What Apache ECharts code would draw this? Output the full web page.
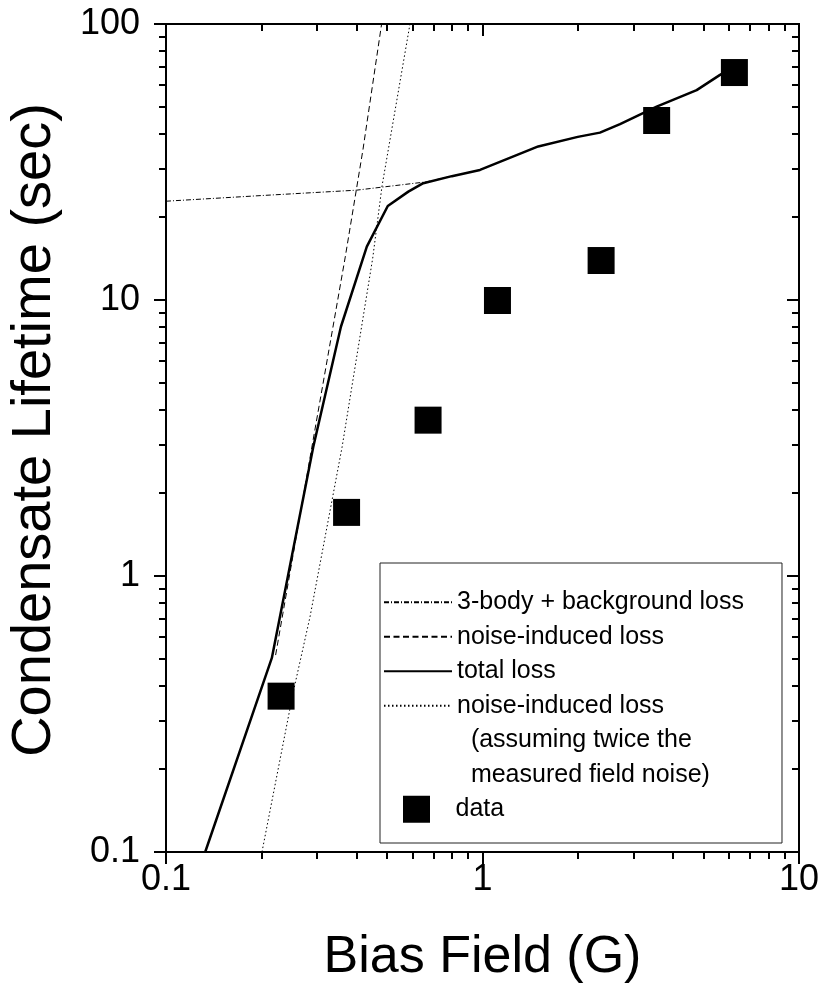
<!DOCTYPE html>
<html><head><meta charset="utf-8">
<script src="https://cdn.jsdelivr.net/npm/echarts@6/dist/echarts.min.js"></script>
<style>html,body{margin:0;padding:0;background:#fff}#chart{width:825px;height:988px}</style>
</head><body><div id="chart"></div>
<script>
// ---- data ----
const dataField = [0.231, 0.372, 0.673, 1.115, 2.37, 3.55, 6.25];
const dataLifetime = [0.367, 1.70, 3.67, 9.96, 13.9, 44.7, 66.7];

const threeBodyField = [0.1, 0.2, 0.4, 0.666, 0.8, 0.982, 1.5, 2.0, 2.35, 2.72, 3.55, 4.75, 5.63, 6.23];
const threeBodyLifetime = [22.8, 23.9, 25.0, 26.8, 28.1, 29.6, 36.0, 39.0, 40.4, 43.4, 50.2, 57.6, 65.4, 69.9];

const noiseField = [0.222, 0.289, 0.368, 0.419, 0.480];
const noiseLifetime = [0.517, 2.93, 14.2, 35.0, 100];

const totalField = [0.133, 0.216, 0.248, 0.292, 0.357, 0.431, 0.502, 0.583, 0.650, 0.8, 0.982, 1.5, 2.0, 2.35, 2.72, 3.55, 4.75, 5.63, 6.23];
const totalLifetime = [0.1, 0.505, 1.13, 2.94, 8.0, 15.6, 21.9, 24.7, 26.5, 28.1, 29.6, 36.0, 39.0, 40.4, 43.4, 50.2, 57.6, 65.4, 69.9];

const noise2Field = [0.201, 0.252, 0.285, 0.36, 0.45, 0.4815, 0.590];
const noise2Lifetime = [0.1, 0.377, 0.71, 2.93, 14.2, 25.9, 100];

const xMajorTicks = [0.1, 1, 10];
const xMinorTicks = [0.2,0.3,0.4,0.5,0.6,0.7,0.8,0.9,2,3,4,5,6,7,8,9];
const yMajorTicks = [0.1, 1, 10, 100];
const yMinorTicks = [0.2,0.3,0.4,0.5,0.6,0.7,0.8,0.9,2,3,4,5,6,7,8,9,20,30,40,50,60,70,80,90];

const names = {
  three: '3-body + background loss',
  noise: 'noise-induced loss',
  total: 'total loss',
  noise2: 'noise-induced loss\n  (assuming twice the\n  measured field noise)',
  data: 'data'
};

// ---- build ----
const zip = (a, b) => a.map((v, i) => [v, b[i]]);
const FONT = 'Liberation Sans, Arial, Helvetica, sans-serif';
const BLACK = '#000';
const TICK_FONT = 36;

function xAxisDef(position, ticks, len, inside, labels) {
  return {
    type: 'log', logBase: 10, min: 0.1, max: 10, position: position,
    axisLine: { show: true, onZero: false, lineStyle: { color: BLACK, width: 2 } },
    axisTick: { show: true, customValues: ticks, length: len, inside: inside, lineStyle: { color: BLACK, width: 2 } },
    axisLabel: labels ? { show: true, customValues: xMajorTicks, fontSize: TICK_FONT, margin: 10, color: BLACK, fontFamily: FONT } : { show: false },
    splitLine: { show: false }, minorTick: { show: false }, minorSplitLine: { show: false }
  };
}
function yAxisDef(position, ticks, len, inside, labels) {
  return {
    type: 'log', logBase: 10, min: 0.1, max: 100, position: position,
    axisLine: { show: true, onZero: false, lineStyle: { color: BLACK, width: 2 } },
    axisTick: { show: true, customValues: ticks, length: len, inside: inside, lineStyle: { color: BLACK, width: 2 } },
    axisLabel: labels ? { show: true, customValues: yMajorTicks, fontSize: TICK_FONT, margin: 26, color: BLACK, fontFamily: FONT } : { show: false },
    splitLine: { show: false }, minorTick: { show: false }, minorSplitLine: { show: false }
  };
}

const xAxes = [
  Object.assign(xAxisDef('bottom', xMajorTicks, 12, false, true), {
    name: 'Bias Field (G)', nameLocation: 'middle', nameGap: 80, nameMoveOverlap: false,
    nameTextStyle: { fontSize: 52, color: BLACK, fontFamily: FONT }
  }),
  xAxisDef('bottom', xMinorTicks, 7, false, false),
  xAxisDef('top', xMajorTicks, 12, true, false),
  xAxisDef('top', xMinorTicks, 7, true, false)
];
const yAxes = [
  Object.assign(yAxisDef('left', yMajorTicks, 12, false, true), {
    name: 'Condensate Lifetime (sec)', nameLocation: 'middle', nameGap: 103, nameRotate: 90, nameMoveOverlap: false,
    nameTextStyle: { fontSize: 56, color: BLACK, fontFamily: FONT, padding: [0, 0, 0, 16] }
  }),
  yAxisDef('left', yMinorTicks, 7, false, false),
  yAxisDef('right', yMajorTicks, 12, true, false),
  yAxisDef('right', yMinorTicks, 7, true, false)
];

const legendText = { fontSize: 25, lineHeight: 34.5, color: BLACK, fontFamily: FONT };
const hiddenSymbol = { color: 'rgba(0,0,0,0)', borderColor: 'rgba(0,0,0,0)', borderWidth: 0, opacity: 0 };

const option = {
  animation: false,
  backgroundColor: '#fff',
  grid: { left: 166, right: 26, top: 24, bottom: 136, containLabel: false, outerBoundsMode: 'none' },
  xAxis: xAxes,
  yAxis: yAxes,
  legend: [
    {
      orient: 'vertical', left: 380, top: 563, padding: [22, 38, 154.5, 3], itemGap: 0,
      itemWidth: 68, itemHeight: 27, selectedMode: false,
      borderColor: '#222', borderWidth: 1, textStyle: legendText, itemStyle: hiddenSymbol,
      data: [names.three, names.noise, names.total]
    },
    {
      orient: 'vertical', left: 383, top: 619.5, padding: 0, itemGap: 0,
      itemWidth: 68, itemHeight: 27, selectedMode: false, textStyle: legendText, itemStyle: hiddenSymbol,
      formatter: function (n) { return '\n\n' + n; },
      data: [names.noise2]
    },
    {
      orient: 'vertical', left: 403, top: 792, padding: 0, itemGap: 0,
      itemWidth: 68, itemHeight: 27, selectedMode: false, textStyle: legendText, symbolKeepAspect: true,
      data: [{ name: names.data, icon: 'path://M0,0H10V10H0Z' }]
    }
  ],
  series: [
    { name: names.three, type: 'line', symbol: 'none', showSymbol: false, z: 2,
      lineStyle: { color: BLACK, width: 1, type: [5, 2, 1, 2] }, itemStyle: { color: BLACK },
      data: zip(threeBodyField, threeBodyLifetime) },
    { name: names.noise, type: 'line', symbol: 'none', showSymbol: false, z: 2,
      lineStyle: { color: BLACK, width: 1, type: [6, 3.5] }, itemStyle: { color: BLACK },
      data: zip(noiseField, noiseLifetime) },
    { name: names.total, type: 'line', symbol: 'none', showSymbol: false, z: 3,
      lineStyle: { color: BLACK, width: 2.5, type: 'solid' }, itemStyle: { color: BLACK },
      data: zip(totalField, totalLifetime) },
    { name: names.noise2, type: 'line', symbol: 'none', showSymbol: false, z: 2,
      lineStyle: { color: BLACK, width: 1, type: [1.5, 2.5] }, itemStyle: { color: BLACK },
      data: zip(noise2Field, noise2Lifetime) },
    { name: names.data, type: 'scatter', symbol: 'rect', symbolSize: 27, z: 5,
      itemStyle: { color: BLACK, opacity: 1 },
      data: zip(dataField, dataLifetime) }
  ]
};

const chart = echarts.init(document.getElementById('chart'), null, { renderer: 'canvas' });
chart.setOption(option);
</script>
</body></html>
